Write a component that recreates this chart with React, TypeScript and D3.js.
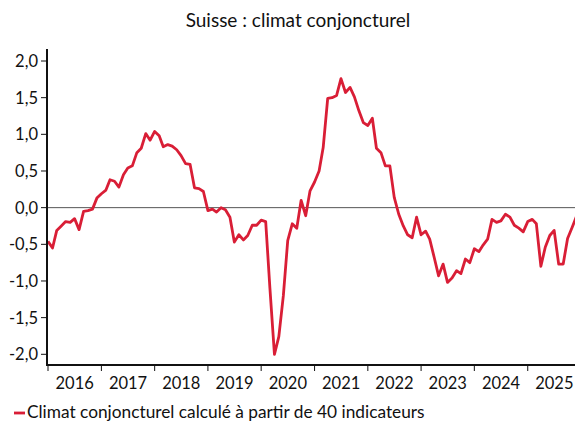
import React, { useEffect, useRef } from "react";
import * as d3 from "d3";

// valeurs mensuelles, janvier 2016 ->
const startYear = 2016;
const values = [
  -0.46, -0.55, -0.31, -0.25, -0.19, -0.2, -0.15, -0.3, -0.05, -0.04, -0.02, 0.13,
  0.19, 0.24, 0.38, 0.36, 0.28, 0.45, 0.54, 0.57, 0.75, 0.81, 1.01, 0.92,
  1.04, 0.98, 0.83, 0.86, 0.84, 0.79, 0.71, 0.6, 0.59, 0.27, 0.26, 0.22,
  -0.04, -0.02, -0.06, 0.0, -0.03, -0.13, -0.47, -0.37, -0.44, -0.38, -0.24, -0.24,
  -0.17, -0.19, -1.1, -2.0, -1.76, -1.2, -0.45, -0.22, -0.28, 0.1, -0.11, 0.23,
  0.35, 0.5, 0.82, 1.49, 1.5, 1.53, 1.76, 1.57, 1.64, 1.51, 1.32, 1.16,
  1.12, 1.22, 0.81, 0.75, 0.57, 0.57, 0.14, -0.09, -0.25, -0.37, -0.41, -0.13,
  -0.37, -0.32, -0.43, -0.68, -0.93, -0.77, -1.02, -0.96, -0.86, -0.9, -0.7, -0.75,
  -0.56, -0.6, -0.51, -0.43, -0.16, -0.2, -0.18, -0.09, -0.13, -0.24, -0.28, -0.33,
  -0.19, -0.16, -0.22, -0.8, -0.54, -0.38, -0.31, -0.77, -0.77, -0.42, -0.27, -0.12,
];
const years = [2016, 2017, 2018, 2019, 2020, 2021, 2022, 2023, 2024, 2025];
const yTicks = [-2, -1.5, -1, -0.5, 0, 0.5, 1, 1.5, 2];
const title = "Suisse : climat conjoncturel";
const legendLabel = "Climat conjoncturel calculé à partir de 40 indicateurs";

const Chart = () => {
  const ref = useRef<SVGSVGElement>(null);

  useEffect(() => {
    const width = 575;
    const height = 423;
    const left = 47;
    const right = 575;
    const top = 49;
    const bottom = 365;
    const red = "#d91e36";
    const font = "Lato, sans-serif";

    const svg = d3.select(ref.current).attr("width", width).attr("height", height);
    svg.selectAll("*").remove();

    const data = values.map((v, i) => ({ date: new Date(startYear, i, 1), v }));

    const x = d3
      .scaleTime()
      .domain([new Date(2016, 0, 1), new Date(2026, 0, 1)])
      .range([left + 1, left + 1 + 533]);
    const y = d3.scaleLinear().domain([-2, 2]).range([354.3, 61]);

    svg
      .append("text")
      .attr("x", 298)
      .attr("y", 27)
      .attr("text-anchor", "middle")
      .attr("font-family", font)
      .attr("font-size", "19px")
      .attr("fill", "#111")
      .text(title);

    svg
      .append("defs")
      .append("clipPath")
      .attr("id", "plot")
      .append("rect")
      .attr("x", left)
      .attr("y", top)
      .attr("width", right - left)
      .attr("height", bottom - top);

    // ligne zéro
    svg
      .append("line")
      .attr("x1", left)
      .attr("x2", right)
      .attr("y1", y(0))
      .attr("y2", y(0))
      .attr("stroke", "#555")
      .attr("stroke-width", 1);

    const line = d3
      .line<{ date: Date; v: number }>()
      .x((d) => x(d.date))
      .y((d) => y(d.v));

    svg
      .append("path")
      .datum(data)
      .attr("clip-path", "url(#plot)")
      .attr("d", line)
      .attr("fill", "none")
      .attr("stroke", red)
      .attr("stroke-width", 2.8)
      .attr("stroke-linejoin", "round");

    // axe Y
    const yAxis = svg.append("g");
    yAxis
      .append("line")
      .attr("x1", left)
      .attr("x2", left)
      .attr("y1", top)
      .attr("y2", bottom)
      .attr("stroke", "#111")
      .attr("stroke-width", 2);
    yTicks.forEach((t) => {
      yAxis
        .append("line")
        .attr("x1", left - 6)
        .attr("x2", left)
        .attr("y1", y(t))
        .attr("y2", y(t))
        .attr("stroke", "#111")
        .attr("stroke-width", 1);
      yAxis
        .append("text")
        .attr("x", left - 9)
        .attr("y", y(t))
        .attr("text-anchor", "end")
        .attr("dominant-baseline", "central")
        .attr("font-family", font)
        .attr("font-size", "16.5px")
        .attr("fill", "#111")
        .text(d3.format(".1f")(t).replace(".", ",").replace("−", "-"));
    });

    // axe X
    const xAxis = svg.append("g");
    xAxis
      .append("line")
      .attr("x1", left - 1)
      .attr("x2", right)
      .attr("y1", bottom)
      .attr("y2", bottom)
      .attr("stroke", "#111")
      .attr("stroke-width", 2);
    years.forEach((yr) => {
      const x0 = x(new Date(yr, 0, 1));
      const x1 = x(new Date(yr + 1, 0, 1));
      xAxis
        .append("line")
        .attr("x1", x0)
        .attr("x2", x0)
        .attr("y1", bottom)
        .attr("y2", bottom + 6)
        .attr("stroke", "#111")
        .attr("stroke-width", 1);
      xAxis
        .append("text")
        .attr("x", (x0 + x1) / 2)
        .attr("y", 389)
        .attr("text-anchor", "middle")
        .attr("font-family", font)
        .attr("font-size", "16.5px")
        .attr("fill", "#111")
        .text(yr);
    });

    // légende
    svg
      .append("line")
      .attr("x1", 14)
      .attr("x2", 25)
      .attr("y1", 413)
      .attr("y2", 413)
      .attr("stroke", red)
      .attr("stroke-width", 2.8);
    svg
      .append("text")
      .attr("x", 27)
      .attr("y", 418)
      .attr("font-family", font)
      .attr("font-size", "17.3px")
      .attr("fill", "#111")
      .text(legendLabel);
  }, []);

  return <svg ref={ref} style={{ display: "block" }}></svg>;
};

export default function App() {
  return (
    <div style={{ position: "absolute", left: 0, top: 0 }}>
      <Chart />
    </div>
  );
}
